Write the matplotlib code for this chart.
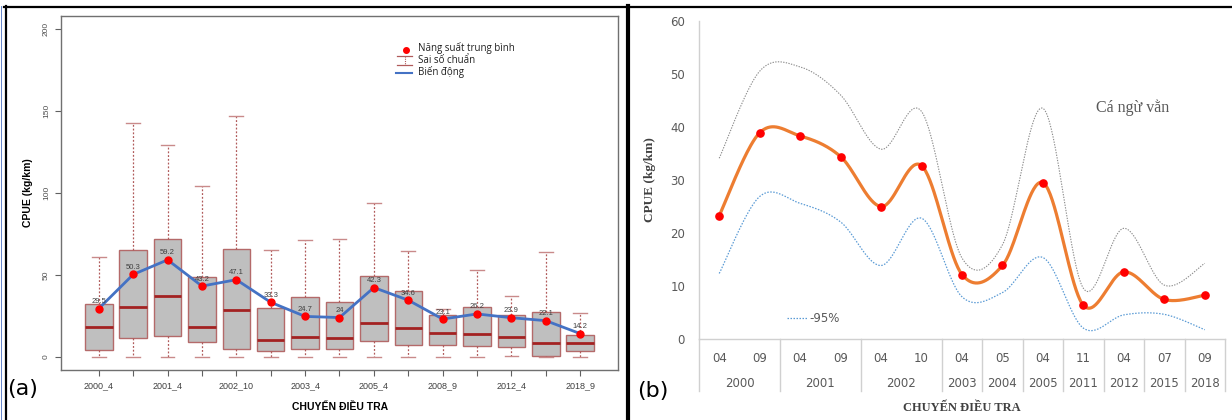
import numpy as np
import matplotlib
matplotlib.use("Agg")
import matplotlib.pyplot as plt
from matplotlib.lines import Line2D
from matplotlib.transforms import blended_transform_factory

# ---------------- Panel (a) data ----------------
a_labels = ["2000_4", "", "2001_4", "", "2002_10", "", "2003_4", "", "2005_4", "",
            "2008_9", "", "2012_4", "", "2018_9"]
a_whislo = [0, 0, 0, 0, 0, 0, 0, 0, 0, 0, 0, 0, 0.6, 0, 0]
a_q1 = [4.3, 11.4, 12.6, 9.0, 4.8, 3.7, 4.8, 4.9, 9.6, 7.1, 7.2, 6.7, 5.9, 0.8, 3.8]
a_med = [18.3, 30.7, 37.2, 18.3, 28.5, 10.6, 12.2, 11.6, 20.5, 17.5, 14.8, 14.2, 12.2, 8.5, 8.3]
a_q3 = [32.3, 65.0, 72.0, 48.8, 65.9, 29.7, 36.4, 33.5, 49.4, 40.4, 25.8, 30.3, 25.8, 27.6, 13.2]
a_whishi = [61.0, 142.9, 129.5, 104.3, 147.0, 65.2, 71.3, 71.8, 93.7, 64.6, 29.0, 53.0, 37.0, 63.8, 26.6]
a_mean = [29.5, 50.3, 59.2, 43.2, 47.1, 33.3, 24.7, 24.0, 42.3, 34.6, 23.1, 26.2, 23.9, 22.1, 14.2]
a_mean_txt = ["29.5", "50.3", "59.2", "43.2", "47.1", "33.3", "24.7", "24", "42.3", "34.6",
              "23.1", "26.2", "23.9", "22.1", "14.2"]
a_yticks = [0, 50, 100, 150, 200]

# ---------------- Panel (b) data ----------------
b_months = ["04", "09", "04", "09", "04", "10", "04", "05", "04", "11", "04", "07", "09"]
b_years = ["2000", "2000", "2001", "2001", "2002", "2002", "2003", "2004", "2005",
           "2011", "2012", "2015", "2018"]
b_mean = [23.3, 38.9, 38.3, 34.4, 25.0, 32.7, 12.2, 13.9, 29.5, 6.4, 12.7, 7.5, 8.3]
b_upper = [34.1, 50.5, 51.3, 46.0, 35.8, 42.9, 15.3, 17.8, 43.5, 9.6, 20.9, 10.2, 14.3]
b_lower = [12.4, 26.9, 25.6, 22.1, 13.9, 22.8, 8.0, 8.8, 15.4, 2.1, 4.6, 4.7, 1.8]
b_yticks = [0, 10, 20, 30, 40, 50, 60]

W, H = 1232, 420
fig = plt.figure(figsize=(W / 100, H / 100), dpi=100)
fig.patch.set_facecolor("white")


def px_axes(l, t, r, b):
    return fig.add_axes([l / W, 1 - b / H, (r - l) / W, (b - t) / H])


def fx(x):
    return x / W


def fy(y):
    return 1 - y / H


SANS = ["Liberation Sans", "DejaVu Sans"]
SERIF = ["Liberation Serif", "DejaVu Serif"]

# ================= Panel (a) =================
axa = px_axes(61, 16, 618, 370)
pos = np.arange(1, len(a_med) + 1)
stats = [dict(med=m, q1=q1, q3=q3, whislo=lo, whishi=hi, fliers=[])
         for m, q1, q3, lo, hi in zip(a_med, a_q1, a_q3, a_whislo, a_whishi)]
axa.bxp(stats, positions=pos, widths=0.8, patch_artist=True, showfliers=False,
        boxprops=dict(facecolor="#bfbfbf", edgecolor="#b46a6a", linewidth=1.0),
        medianprops=dict(color="#a32222", linewidth=2.0),
        whiskerprops=dict(color="#b05a5a", linestyle=(0, (1.5, 1.5)), linewidth=0.9),
        capprops=dict(color="#c98a8a", linewidth=1.0),
        capwidths=0.4, manage_ticks=False)
axa.plot(pos, a_mean, color="#4472c4", lw=2.0, zorder=4)
axa.plot(pos, a_mean, "o", color="#ff0000", ms=5, zorder=5)
for x, y, t in zip(pos, a_mean, a_mean_txt):
    axa.annotate(t, (x, y), xytext=(0, 2.5), textcoords="offset points",
                 ha="center", va="bottom", fontsize=5.5, color="#404040",
                 family=SANS, zorder=6)
axa.set_xlim(-0.1, 16.1)
axa.set_ylim(-8, 208)
axa.set_xticks(pos)
axa.set_xticklabels(a_labels, fontsize=6.5, color="#404040", family=SANS)
axa.set_yticks(a_yticks)
axa.set_yticklabels([str(v) for v in a_yticks], fontsize=6, color="#505050",
                    family=SANS, rotation=90, va="center")
axa.tick_params(axis="x", length=4, width=0.8, color="#606060", pad=4)
axa.tick_params(axis="y", length=4, width=0.8, color="#606060", pad=4)
for s in axa.spines.values():
    s.set_color("#707070")
    s.set_linewidth(1.0)
axa.set_ylabel("CPUE (kg/km)", fontsize=7.5, fontweight="bold", family=SANS,
               color="black")
axa.yaxis.set_label_coords((33 - 61) / (618 - 61), 0.5)
fig.text(fx(340), fy(407), "CHUYẾN ĐIỀU TRA", ha="center", va="center",
         fontsize=7.5, fontweight="bold", family=SANS, color="black")

# legend (a), drawn in axes fraction coordinates
ta = axa.transAxes


def ax_x(px):
    return (px - 61) / (618 - 61)


def ax_y(py):
    return 1 - (py - 16) / (370 - 16)


axa.plot([ax_x(405.5)], [ax_y(50)], "o", color="#ff0000", ms=4, transform=ta,
         clip_on=False)
axa.plot([ax_x(397), ax_x(412)], [ax_y(55.5)] * 2, color="#b05a5a", lw=0.9,
         transform=ta)
axa.plot([ax_x(397), ax_x(412)], [ax_y(64.5)] * 2, color="#b05a5a", lw=0.9,
         transform=ta)
axa.plot([ax_x(404.5)] * 2, [ax_y(56), ax_y(64)], color="#b05a5a", lw=0.8,
         ls=(0, (1, 1)), transform=ta)
axa.plot([ax_x(396), ax_x(412)], [ax_y(73)] * 2, color="#4472c4", lw=1.5,
         transform=ta)
for ty, txt in zip([48.5, 60.5, 72.5], ["Năng suất trung bình", "Sai số chuẩn", "Biến động"]):
    axa.text(ax_x(418), ax_y(ty), txt, transform=ta, ha="left", va="center",
             fontsize=7, family=["Open Sans", "DejaVu Sans"], color="#202020")

fig.text(fx(23), fy(389), "(a)", ha="center", va="center", fontsize=16,
         family=["DejaVu Sans"], color="black")


# ================= Panel (b) =================
def smooth(xs, ys, n=40):
    P = np.column_stack([np.asarray(xs, float), np.asarray(ys, float)])
    E = np.vstack([P[0], P, P[-1]])
    t = np.linspace(0, 1, n)[:, None]
    out = []
    for i in range(len(P) - 1):
        p0, p1, p2, p3 = E[i], E[i + 1], E[i + 2], E[i + 3]
        c1 = p1 + (p2 - p0) / 6.0
        c2 = p2 - (p3 - p1) / 6.0
        B = (1 - t) ** 3 * p1 + 3 * (1 - t) ** 2 * t * c1 + 3 * (1 - t) * t ** 2 * c2 + t ** 3 * p2
        out.append(B if i == 0 else B[1:])
    B = np.vstack(out)
    return B[:, 0], B[:, 1]


axb = px_axes(699, 20.7, 1225, 339.3)
xb = np.arange(len(b_mean))
sx, sy = smooth(xb, b_upper)
axb.plot(sx, sy, color="#8c8c8c", lw=0.8, ls=(0, (1.2, 1.2)))
sx, sy = smooth(xb, b_lower)
axb.plot(sx, sy, color="#5b9bd5", lw=0.9, ls=(0, (1.2, 1.2)))
sx, sy = smooth(xb, b_mean)
axb.plot(sx, sy, color="#ed7d31", lw=2.3)
axb.plot(xb, b_mean, "o", color="#ff0000", ms=5.2, zorder=5)
axb.set_xlim(-0.5, len(b_mean) - 0.5)
axb.set_ylim(0, 60)
axb.set_yticks(b_yticks)
axb.set_yticklabels([str(v) for v in b_yticks], fontsize=8.5, color="#595959",
                    family=["DejaVu Sans"])
axb.tick_params(axis="y", length=0, pad=10)
axb.set_xticks([])
for k in ["top", "right"]:
    axb.spines[k].set_visible(False)
axb.spines["left"].set_color("#d0d0d0")
axb.spines["bottom"].set_color("#d0d0d0")
axb.spines["left"].set_linewidth(1.0)
axb.spines["bottom"].set_linewidth(1.0)

tb = blended_transform_factory(axb.transData, axb.transAxes)
ax_h = 339.3 - 20.7
for x, m in zip(xb, b_months):
    axb.text(x, -(358 - 339.3) / ax_h, m, transform=tb, ha="center", va="center",
             fontsize=8.5, color="#595959", family=["DejaVu Sans"])
# year groups and separators
groups = []
for i, yr in enumerate(b_years):
    if groups and groups[-1][0] == yr:
        groups[-1][2] = i
    else:
        groups.append([yr, i, i])
bounds = [g[1] - 0.5 for g in groups] + [groups[-1][2] + 0.5]
for yr, i0, i1 in groups:
    axb.text((i0 + i1) / 2, -(383.5 - 339.3) / ax_h, yr, transform=tb, ha="center",
             va="center", fontsize=8.5, color="#595959", family=["DejaVu Sans"])
for bx in bounds:
    axb.plot([bx, bx], [0, -(391 - 339.3) / ax_h], transform=tb, color="#d0d0d0",
             lw=1.0, clip_on=False)

axb.set_ylabel("CPUE (kg/km)", fontsize=9.5, fontweight="bold", family=SERIF,
               color="#404040")
axb.yaxis.set_label_coords((656 - 699) / (1225 - 699), 0.5)
fig.text(fx(962), fy(408), "CHUYẾN ĐIỀU TRA", ha="center", va="center",
         fontsize=9, fontweight="bold", family=SERIF, color="#404040")
fig.text(fx(1133), fy(108), "Cá ngừ vằn", ha="center", va="center", fontsize=11.5,
         family=SERIF, color="#595959")
# "-95%" label with its line sample
fig.add_artist(Line2D([fx(787), fx(808)], [fy(317.5), fy(317.5)], color="#5b9bd5",
                      lw=0.9, ls=(0, (1.2, 1.2))))
fig.text(fx(809), fy(318), "-95%", ha="left", va="center", fontsize=8.5,
         family=["DejaVu Sans"], color="#595959")
fig.text(fx(653), fy(391), "(b)", ha="center", va="center", fontsize=16,
         family=["DejaVu Sans"], color="black")

# ================= frame lines =================
fig.add_artist(Line2D([fx(4), fx(W)], [fy(7), fy(7)], color="black", lw=1.6))
fig.add_artist(Line2D([fx(5.5), fx(5.5)], [fy(6), fy(H)], color="black", lw=1.6))
fig.add_artist(Line2D([fx(1), fx(1)], [fy(6), fy(H)], color="#4a6fc0", lw=0.6))
fig.add_artist(Line2D([fx(627.5), fx(627.5)], [fy(6), fy(H)], color="black", lw=3.0))

fig.savefig("out.png", dpi=100, facecolor="white")
